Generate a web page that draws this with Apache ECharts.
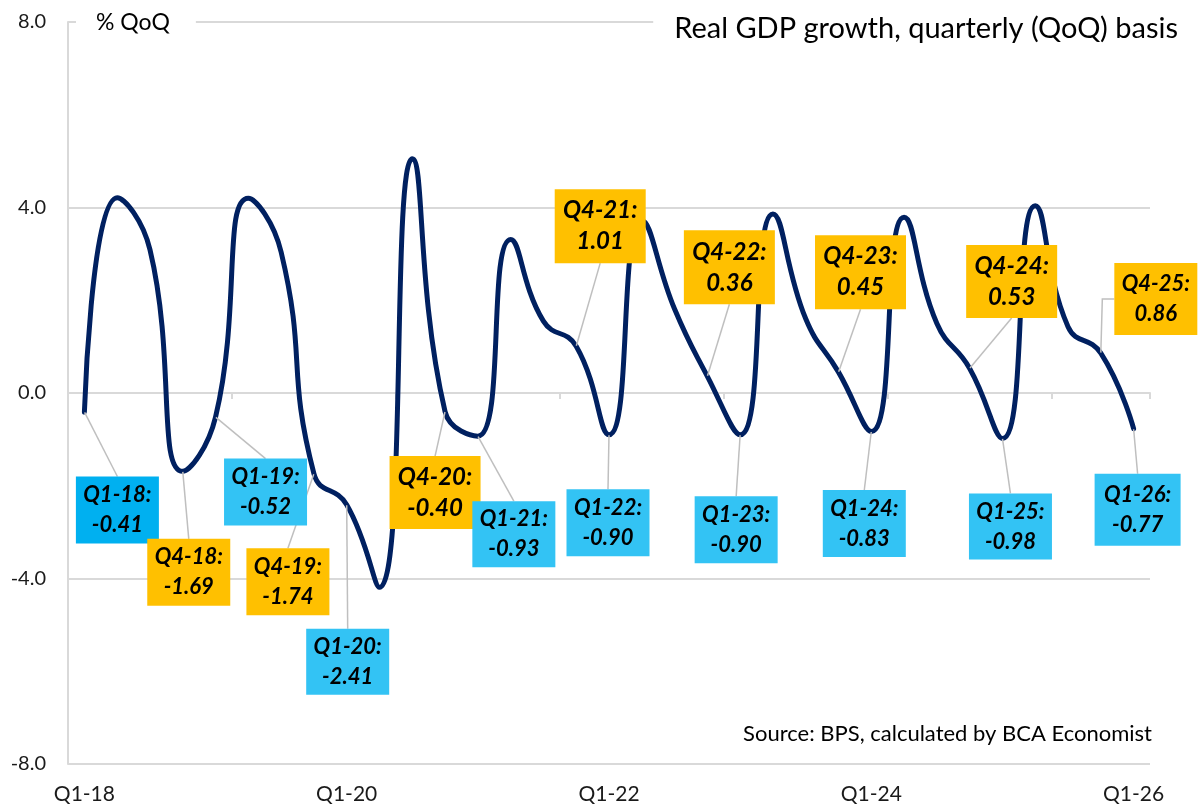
<!DOCTYPE html>
<html>
<head>
<meta charset="utf-8">
<script src="https://cdn.jsdelivr.net/npm/echarts@6/dist/echarts.min.js"></script>
<style>
  html, body { margin: 0; padding: 0; background: #ffffff; }
  #chart { width: 1202px; height: 810px; }
</style>
</head>
<body>
<div id="chart"></div>
<script>
// ---------- data ----------
const quarters = [
  'Q1-18','Q2-18','Q3-18','Q4-18',
  'Q1-19','Q2-19','Q3-19','Q4-19',
  'Q1-20','Q2-20','Q3-20','Q4-20',
  'Q1-21','Q2-21','Q3-21','Q4-21',
  'Q1-22','Q2-22','Q3-22','Q4-22',
  'Q1-23','Q2-23','Q3-23','Q4-23',
  'Q1-24','Q2-24','Q3-24','Q4-24',
  'Q1-25','Q2-25','Q3-25','Q4-25',
  'Q1-26'
];
const gdpQoQ = [
  -0.41, 4.21, 3.09, -1.69,
  -0.52, 4.20, 3.04, -1.74,
  -2.41, -4.19, 5.05, -0.40,
  -0.93, 3.31, 1.55, 1.01,
  -0.90, 3.72, 1.81, 0.36,
  -0.90, 3.86, 1.60, 0.45,
  -0.83, 3.79, 1.50, 0.53,
  -0.98, 4.04, 1.43, 0.86,
  -0.77
];
// quarters that carry a callout (index into quarters)
const calloutIdx = [0, 3, 4, 7, 8, 11, 12, 15, 16, 19, 20, 23, 24, 27, 28, 31, 32];
const yTicks = [-8, -4, 0, 4, 8];
const titleText = 'Real GDP growth, quarterly (QoQ) basis';
const unitText = '% QoQ';
const sourceText = 'Source: BPS, calculated by BCA Economist';

// ---------- layout / style (not data) ----------
// offsets of each callout box centre from its point, in px: [dx, dy]
const calloutOffset = [
  [33, 98], [6, 101], [50, 75], [-26, 108], [1, 157], [-10, 81], [36, 98],
  [24, -120], [-1, 88], [22, -109], [-4, 95], [22, -100], [-7, 92],
  [42, -87], [8, 88], [55, -54], [4, 81]
];
// box sizes [w, h, fontSize, lineHeight]
const calloutSize = [
  [83, 67, 22, 30], [83, 67, 22, 30], [83, 67, 22, 30], [83, 67, 22, 30], [83, 66, 22, 30],
  [91, 73, 24, 31], [83, 66, 22, 30], [91, 74, 24, 31], [83, 67, 22, 30], [91, 74, 24, 31],
  [83, 67, 22, 30], [91, 74, 24, 31], [83, 67, 22, 30], [91, 73, 24, 31], [83, 66, 22, 30],
  [83, 72, 22, 30], [86, 72, 22, 30]
];
const C_Q1 = '#33C3F4', C_Q1_FIRST = '#00B0F0', C_Q4 = '#FFC000';
const FONT = 'Lato, "Open Sans", "Noto Sans", sans-serif';
const GRID_COLOR = '#D9D9D9';

const calloutData = calloutIdx.map((qi, k) => {
  const isQ1 = quarters[qi].startsWith('Q1');
  const s = calloutSize[k];
  const item = {
    value: [qi, gdpQoQ[qi]],
    label: {
      backgroundColor: qi === 0 ? C_Q1_FIRST : (isQ1 ? C_Q1 : C_Q4),
      width: s[0],
      height: s[1] - 4,
      padding: [2, 0, 2, 0],
      fontSize: s[2],
      lineHeight: s[3]
    }
  };
  if (qi === 31) {
    item.labelLine = { length2: 12 };
  }
  return item;
});

const chart = echarts.init(document.getElementById('chart'), null, { renderer: 'canvas' });

chart.setOption({
  animation: false,
  backgroundColor: '#ffffff',
  grid: { left: 68, right: 52, top: 22, bottom: 46, containLabel: false },
  title: [
    {
      text: unitText,
      left: 76, top: 7,
      padding: [3, 26, 3, 20],
      backgroundColor: '#ffffff',
      textStyle: { fontFamily: FONT, fontSize: 23, fontWeight: 'normal', color: '#000000', lineHeight: 26 }
    },
    {
      text: titleText,
      right: 18, top: 10,
      padding: [2, 6, 2, 21],
      backgroundColor: '#ffffff',
      textStyle: { fontFamily: FONT, fontSize: 29, fontWeight: 'normal', color: '#000000', lineHeight: 34 }
    },
    {
      text: sourceText,
      right: 50, top: 720,
      padding: 0,
      textStyle: { fontFamily: FONT, fontSize: 22, fontWeight: 'normal', color: '#000000', lineHeight: 28 }
    }
  ],
  xAxis: [
    {
      type: 'category',
      data: quarters,
      boundaryGap: true,
      position: 'bottom',
      axisLine: { show: false, onZero: false },
      axisTick: { show: false },
      splitLine: { show: false },
      axisLabel: {
        interval: 7,
        margin: 20,
        fontFamily: FONT, fontSize: 21, color: '#1a1a1a'
      }
    },
    {
      type: 'category',
      data: quarters,
      boundaryGap: true,
      position: 'bottom',
      axisLine: { show: true, onZero: true, lineStyle: { color: GRID_COLOR, width: 2 } },
      axisTick: { show: true, interval: 4, length: 6, lineStyle: { color: GRID_COLOR, width: 2 } },
      axisLabel: { show: false },
      splitLine: { show: false }
    }
  ],
  yAxis: {
    type: 'value',
    min: -8, max: 8, interval: 4,
    axisLine: { show: true, lineStyle: { color: GRID_COLOR, width: 2 } },
    axisTick: { show: false },
    splitLine: { show: true, lineStyle: { color: GRID_COLOR, width: 2 } },
    axisLabel: {
      margin: 22,
      fontFamily: FONT, fontSize: 20, color: '#1a1a1a',
      formatter: v => yTicks.includes(v) ? v.toFixed(1) : ''
    }
  },
  series: [
    {
      name: 'Real GDP QoQ',
      type: 'line',
      xAxisIndex: 0,
      z: 2,
      data: gdpQoQ,
      smooth: 0.5,
      showSymbol: false,
      silent: true,
      lineStyle: { color: '#002060', width: 5, cap: 'round', join: 'round' }
    },
    {
      name: 'callouts',
      type: 'scatter',
      xAxisIndex: 0,
      z: 4,
      symbol: 'circle',
      symbolSize: 1,
      itemStyle: { color: 'transparent', opacity: 1 },
      silent: true,
      data: calloutData,
      label: {
        show: true,
        position: 'inside',
        align: 'center',
        verticalAlign: 'middle',
        overflow: 'none',
        opacity: 1,
        fontFamily: FONT,
        fontWeight: 'bold',
        fontStyle: 'italic',
        color: '#000000',
        formatter: p => quarters[p.value[0]] + ':\n' + p.value[1].toFixed(2)
      },
      labelLine: {
        show: true,
        length2: 0,
        smooth: false,
        lineStyle: { color: '#BFBFBF', width: 1.5, opacity: 1 }
      },
      labelLayout: p => {
        const o = calloutOffset[p.dataIndex];
        return { dx: o[0], dy: o[1] };
      }
    }
  ]
});
</script>
</body>
</html>
